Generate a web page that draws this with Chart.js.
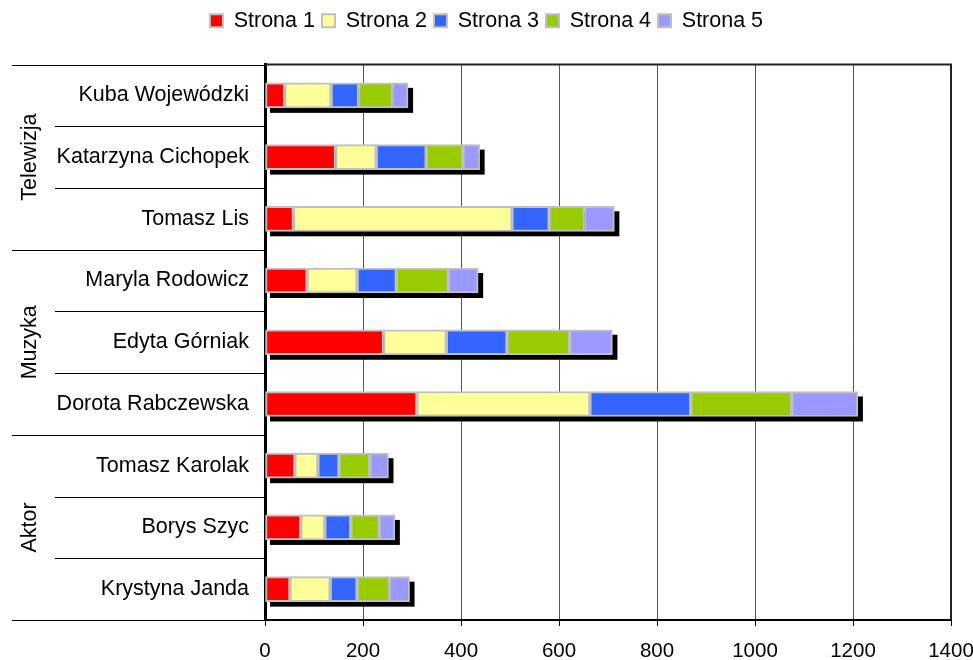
<!DOCTYPE html>
<html>
<head>
<meta charset="utf-8">
<script src="https://cdn.jsdelivr.net/npm/chart.js@4.4.1/dist/chart.umd.min.js"></script>
<style>
    html, body { margin: 0; padding: 0; background: #fff; }
    #wrap { width: 973px; height: 660px; }
</style>
</head>
<body>
<div id="wrap"><canvas id="wykres" width="973" height="660"></canvas></div>
<script>
// Dane wykresu
const osoby = ['Kuba Wojewódzki', 'Katarzyna Cichopek', 'Tomasz Lis',
    'Maryla Rodowicz', 'Edyta Górniak', 'Dorota Rabczewska',
    'Tomasz Karolak', 'Borys Szyc', 'Krystyna Janda'];
const grupy = ['Telewizja', 'Muzyka', 'Aktor'];
const grupyZakres = [[0, 2], [3, 5], [6, 8]];
const strona1 = [40, 144, 58, 86, 242, 310, 61, 73, 51];
const strona2 = [95, 83, 446, 102, 128, 353, 47, 49, 82];
const strona3 = [56, 102, 76, 80, 124, 206, 43, 53, 55];
const strona4 = [69, 75, 72, 106, 128, 206, 63, 58, 66];
const strona5 = [32, 34, 61, 61, 87, 135, 38, 32, 41];
const ticksX = [0, 200, 400, 600, 800, 1000, 1200, 1400];

const serie = [
    { label: 'Strona 1', data: strona1, kolor: '#FF0000' },
    { label: 'Strona 2', data: strona2, kolor: '#FFFF99' },
    { label: 'Strona 3', data: strona3, kolor: '#3366FF' },
    { label: 'Strona 4', data: strona4, kolor: '#99CC00' },
    { label: 'Strona 5', data: strona5, kolor: '#9999FF' }
];

const FONT = 'Liberation Sans, Arial, sans-serif';
const ROZMIAR = 21.5;
const GRUBOSC = 25;

// Cień pod każdym słupkiem
const cienPlugin = {
    id: 'cien',
    beforeDatasetsDraw(chart) {
        const ctx = chart.ctx;
        const xs = chart.scales.x;
        const ys = chart.scales.y;
        ctx.save();
        ctx.fillStyle = '#000';
        osoby.forEach((_, i) => {
            let suma = 0;
            serie.forEach(s => { suma += s.data[i]; });
            const x0 = xs.getPixelForValue(0);
            const x1 = xs.getPixelForValue(suma);
            const yc = ys.getPixelForValue(i);
            ctx.fillRect(x0 + 5, yc - GRUBOSC / 2 + 5, x1 - x0, GRUBOSC);
        });
        // ramka obszaru wykresu
        const a = chart.chartArea;
        ctx.strokeStyle = '#222';
        ctx.lineWidth = 2;
        ctx.beginPath();
        ctx.moveTo(a.left, a.top);
        ctx.lineTo(a.right, a.top);
        ctx.lineTo(a.right, a.bottom);
        ctx.stroke();
        ctx.restore();
    }
};

// Linie podziału i nazwy grup po lewej
const grupyPlugin = {
    id: 'grupy',
    afterDraw(chart) {
        const ctx = chart.ctx;
        const ys = chart.scales.y;
        const a = chart.chartArea;
        ctx.save();
        ctx.strokeStyle = '#000';
        ctx.lineWidth = 1;
        grupyZakres.forEach((z, g) => {
            const yTop = ys.getPixelForValue(z[0] - 0.5);
            const yBot = ys.getPixelForValue(z[1] + 0.5);
            // linie pełne między grupami
            [yTop, yBot].forEach(y => {
                ctx.beginPath();
                ctx.moveTo(12, Math.round(y) + 0.5);
                ctx.lineTo(a.left, Math.round(y) + 0.5);
                ctx.stroke();
            });
            // linie krótsze między osobami
            for (let i = z[0]; i < z[1]; i++) {
                const y = ys.getPixelForValue(i + 0.5);
                ctx.beginPath();
                ctx.moveTo(55, Math.round(y) + 0.5);
                ctx.lineTo(a.left, Math.round(y) + 0.5);
                ctx.stroke();
            }
            // nazwa grupy pionowo
            ctx.save();
            ctx.translate(30, (yTop + yBot) / 2);
            ctx.rotate(-Math.PI / 2);
            ctx.fillStyle = '#000';
            ctx.font = ROZMIAR + 'px ' + FONT;
            ctx.textAlign = 'center';
            ctx.textBaseline = 'middle';
            ctx.fillText(grupy[g], 0, 0);
            ctx.restore();
        });
        ctx.restore();
    }
};

// Większy odstęp pod legendą
const legendaPlugin = {
    id: 'legendaOdstep',
    beforeInit(chart) {
        const fit = chart.legend.fit;
        chart.legend.fit = function () {
            fit.bind(this)();
            this.height += 23;
        };
    }
};

new Chart(document.getElementById('wykres'), {
    type: 'bar',
    data: {
        labels: osoby,
        datasets: serie.map(s => ({
            label: s.label,
            data: s.data,
            backgroundColor: s.kolor,
            borderColor: '#C0C0C0',
            borderWidth: 2,
            borderSkipped: false,
            barThickness: GRUBOSC
        }))
    },
    options: {
        indexAxis: 'y',
        responsive: false,
        animation: false,
        layout: { padding: { left: 0, right: 0, top: 3, bottom: 0 } },
        plugins: {
            legend: {
                position: 'top',
                labels: {
                    color: '#000',
                    font: { family: FONT, size: ROZMIAR },
                    boxWidth: 13,
                    boxHeight: 13,
                    padding: 7
                }
            },
            tooltip: { enabled: false }
        },
        scales: {
            x: {
                stacked: true,
                min: 0,
                max: 1400,
                afterBuildTicks(scale) {
                    scale.ticks = ticksX.map(v => ({ value: v }));
                },
                afterFit(scale) {
                    scale.height = 40;
                    scale.paddingLeft = 0;
                    scale.paddingRight = 22;
                },
                grid: {
                    color: '#555',
                    lineWidth: 1,
                    tickLength: 6,
                    tickColor: '#000'
                },
                border: { color: '#000', width: 2 },
                ticks: {
                    color: '#000',
                    padding: 13,
                    font: { family: FONT, size: 20.5 },
                    callback: v => String(v)
                }
            },
            y: {
                stacked: true,
                afterFit(scale) { scale.width = 265; },
                grid: { display: false, drawTicks: false },
                border: { color: '#000', width: 3 },
                ticks: {
                    color: '#000',
                    padding: 16,
                    font: { family: FONT, size: ROZMIAR }
                }
            }
        }
    },
    plugins: [cienPlugin, grupyPlugin, legendaPlugin]
});
</script>
</body>
</html>
